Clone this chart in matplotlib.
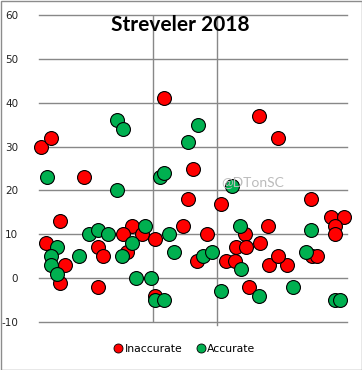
import matplotlib.pyplot as plt
from matplotlib.lines import Line2D

# Inaccurate (red) points
inacc_x = [-2.75, -2.59, -2.08, -2.45, -0.83, 0.66, 0.95, -0.38, -0.45, 0.06,
           1.47, 1.78, 1.98, 1.84, 1.84, -0.53, -1.33, -1.47, -1.17, -0.97,
           -0.16, 0.44, 0.80, -2.67, -1.86, -1.78, -2.38, -2.45, -1.86, -1.41,
           -0.97, -0.31, 0.14, 0.28, 0.30, 0.45, 0.67, 0.81, 1.09, 0.95,
           0.50, 1.48, 1.56]
inacc_y = [30, 32, 23, 13, 41, 37, 32, 25, 18, 17,
           18, 14, 14, 12, 10, 12, 12, 10, 10, 9,
           10, 10, 12, 8, 7, 5, 3, -1, -2, 6,
           -4, 4, 4, 4, 7, 7, 8, 3, 3, 5,
           -2, 5, 5]

# Accurate (green) points
acc_x = [-1.56, -1.47, -0.30, -0.45, -2.66, -1.56, -0.89, -0.83, 0.23, -2.00,
         -1.86, -1.70, -1.13, -0.75, 0.36, 1.47, -2.50, -2.59, -2.59, -2.50,
         -2.16, -1.48, -1.33, -1.27, -1.03, -0.97, -0.83, -0.67, -0.22, -0.08,
         0.06, 0.38, 0.66, 1.19, 1.39, 1.84, 1.92]
acc_y = [36, 34, 35, 31, 23, 20, 23, 24, 21, 10,
         11, 10, 12, 10, 12, 11, 7, 5, 3, 1,
         5, 5, 8, 0, 0, -5, -5, 6, 5, 6,
         -3, 2, -4, -2, 6, -5, -5]

y_ticks = [-10, 0, 10, 20, 30, 40, 50, 60]

RED = '#FF0000'
GREEN = '#00B050'
GRID = '#888888'

W, H = 362, 370
fig = plt.figure(figsize=(W / 100, H / 100), dpi=100)
fig.patch.set_facecolor('white')

# chart border
fig.add_artist(plt.Rectangle((0.5 / W, 0.5 / H), 1 - 1 / W, 1 - 1 / H,
                             transform=fig.transFigure, fill=False,
                             edgecolor='#8C8C8C', linewidth=1))

left, right, top, bottom = 39, 347, 15, 322
ax = fig.add_axes([left / W, 1 - bottom / H, (right - left) / W, (bottom - top) / H])
ax.set_xlim(-2.78, 2.03)
ax.set_ylim(-10, 60)
for s in ax.spines.values():
    s.set_visible(False)

for yv in y_ticks:
    ax.axhline(yv, color=GRID, linewidth=1, zorder=1, clip_on=False)
ax.axvline(-1, color=GRID, linewidth=1, zorder=1)
ax.plot([0, 0], [-10.6, 60], color=GRID, linewidth=1, zorder=1, clip_on=False)

ax.set_xticks([])
ax.set_yticks(y_ticks)
ax.set_yticklabels([str(v) for v in y_ticks], fontsize=7.5, color='#222222')
ax.tick_params(axis='y', length=0, pad=15)

ax.scatter(inacc_x, inacc_y, s=100, color=RED, edgecolors='black',
           linewidths=0.8, zorder=3, clip_on=False)
ax.scatter(acc_x, acc_y, s=100, color=GREEN, edgecolors='black',
           linewidths=0.8, zorder=4, clip_on=False)

fig.text(180 / W, 1 - 25 / H, 'Streveler 2018', ha='center', va='center',
         fontsize=15, fontweight='bold', family='Lato')
fig.text(253 / W, 1 - 182 / H, '@DTonSC', ha='center', va='center',
         fontsize=10, color='#BBBBBB', family='Lato')

handles = [Line2D([], [], marker='o', linestyle='', markersize=6.5,
                  markerfacecolor=RED, markeredgecolor='black', markeredgewidth=0.6),
           Line2D([], [], marker='o', linestyle='', markersize=6.5,
                  markerfacecolor=GREEN, markeredgecolor='black', markeredgewidth=0.6)]
fig.legend(handles, ['Inaccurate', 'Accurate'], loc='center',
           bbox_to_anchor=(184 / W, 1 - 349 / H), ncol=2, frameon=False,
           fontsize=7.8, handletextpad=0.1, columnspacing=1.2, handlelength=1)

fig.savefig('out.png', dpi=100)
